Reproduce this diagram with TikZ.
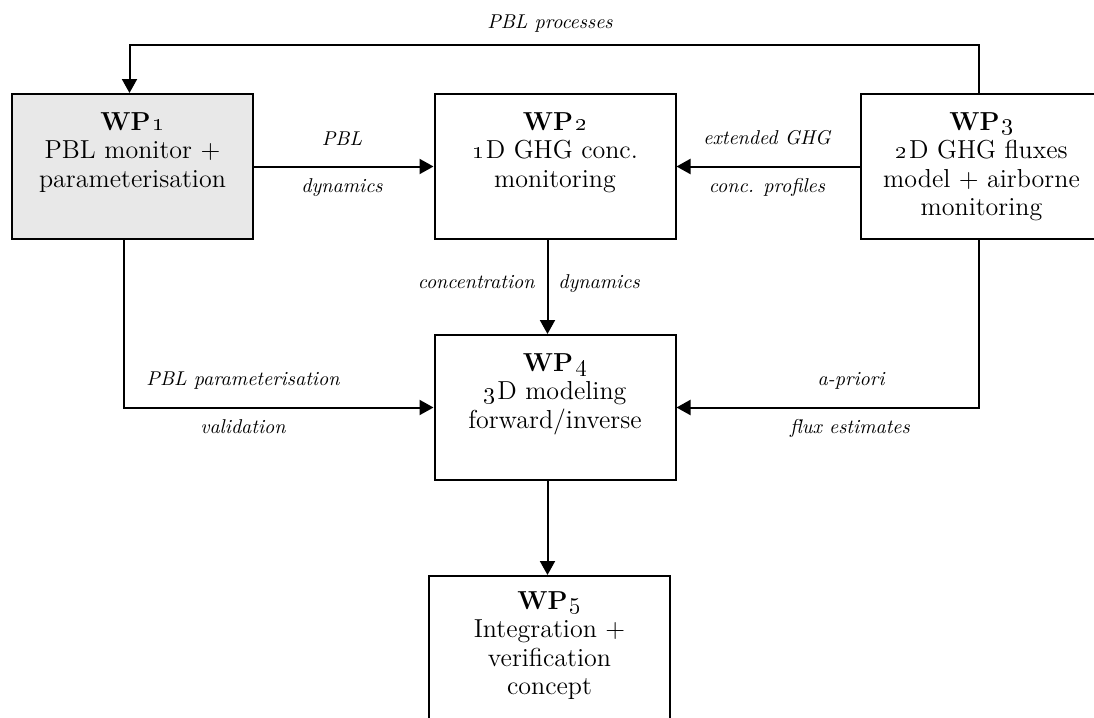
\documentclass[tikz,border=0pt]{standalone}
\usetikzlibrary{arrows.meta,positioning}
\definecolor{boxgray}{HTML}{E8E8E8}
\tikzset{
  wpbox/.style={draw, line width=1pt, minimum width=120.5pt, minimum height=72.5pt, inner sep=0pt, anchor=north west},
  wptext/.style={align=center, font=\fontsize{13}{14.25}\selectfont, inner sep=0pt, anchor=north},
  conn/.style={line width=1pt, -{Triangle[length=7pt,width=7.5pt]}},
  lbl/.style={font=\fontsize{10}{11.5}\selectfont\itshape, inner sep=0pt, anchor=base},
}
\newcommand{\osn}[1]{\oldstylenums{#1}}
\begin{document}
\begin{tikzpicture}[x=0.5pt,y=-0.5pt]
\useasboundingbox (0,0) rectangle (1094,718);
\clip (0,0) rectangle (1094,718);
% boxes
\node[wpbox, fill=boxgray] (wp1) at (11,93) {};
\node[wpbox] (wp2) at (433.5,93) {};
\node[wpbox] (wp3) at (860,93) {};
\node[wpbox] (wp4) at (433.5,334) {};
\node[wpbox] (wp5) at (428,575) {};
% texts
\node[wptext, below=9.5pt of wp1.north] (t1) {\textbf{WP\kern1.2pt\osn{1}}\\PBL monitor +\\parameterisation};
\node[wptext, below=9.5pt of wp2.north] (t2) {\textbf{WP\kern1.2pt\osn{2}}\\\osn{1}\kern1pt D GHG conc.\\monitoring};
\node[wptext, below=9.5pt of wp3.north] (t3) {\textbf{WP\kern1.2pt\osn{3}}\\\osn{2}\kern1pt D GHG fluxes\\model + airborne\\monitoring};
\node[wptext, below=9.5pt of wp4.north] (t4) {\textbf{WP\kern1.2pt\osn{4}}\\\osn{3}\kern1pt D modeling\\forward/inverse};
\node[wptext, below=8pt of wp5.north] (t5) {\textbf{WP\kern1.2pt\osn{5}}\\Integration +\\verification\\concept};
% connectors
\draw[conn] ([xshift=-1.25pt]wp3.north) -- ++(0,-48) coordinate (topr) -| ([xshift=-1.5pt]wp1.north);
\draw[conn] (wp1.east) -- (wp2.west);
\draw[conn] (wp3.west) -- (wp2.east);
\draw[conn] ([xshift=-3.75pt]wp2.south) -- ([xshift=-3.75pt]wp4.north);
\draw[conn] ([xshift=-4.25pt]wp1.south) |- (wp4.west);
\draw[conn] ([xshift=-1.25pt]wp3.south) |- (wp4.east);
\draw[conn] ([xshift=-3.75pt]wp4.south) -- ([xshift=-3.75pt]wp4.south |- wp5.north);
% labels
\node[lbl] (l0) at (550,28) {PBL processes};
\node[lbl] (l1a) at (342,145) {PBL};
\node[lbl] (l1b) at (342,192) {dynamics};
\node[lbl] (l3a) at (767,144) {extended GHG};
\node[lbl] (l3b) at (767,192) {conc. profiles};
\node[lbl, anchor=base east] (l2a) at (535,288) {concentration};
\node[lbl, anchor=base west] (l2b) at (558,288) {dynamics};
\node[lbl] (l4a) at (243,385) {PBL parameterisation};
\node[lbl] (l4b) at (243,433) {validation};
\node[lbl] (l5a) at (851,385) {a-priori};
\node[lbl] (l5b) at (850,433) {flux estimates};
\end{tikzpicture}
\end{document}
